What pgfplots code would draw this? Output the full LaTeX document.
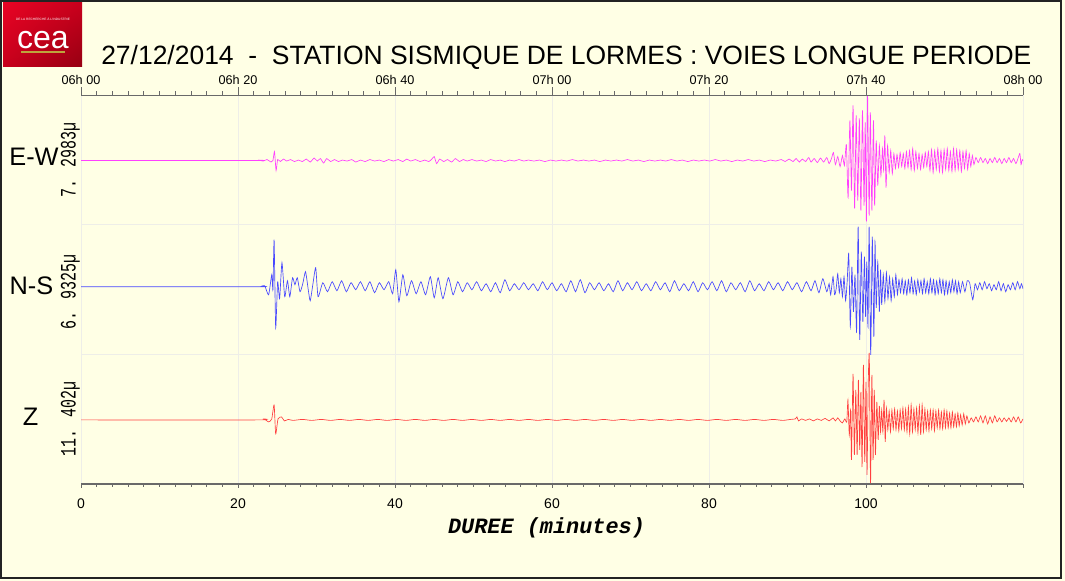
\documentclass[border=0pt]{standalone}
\usepackage{fontspec}
\setmainfont{Liberation Sans}
\newfontfamily\ampfont[FakeStretch=0.68]{Liberation Mono}
\newfontfamily\monofont{Liberation Mono}
\usepackage{pgfplots}
\usepackage{pgfplotstable}
\usetikzlibrary{shadings}
\pgfplotsset{compat=1.18}
\definecolor{bg}{RGB}{255,255,229}
\definecolor{ewc}{RGB}{255,64,255}
\definecolor{nsc}{RGB}{72,72,255}
\definecolor{zc}{RGB}{255,64,64}
\definecolor{gridc}{RGB}{238,238,232}
\definecolor{axc}{RGB}{105,105,105}
\definecolor{frm}{RGB}{35,35,35}
\definecolor{cealight}{RGB}{232,4,36}
\definecolor{ceamid}{RGB}{200,0,28}
\definecolor{ceadark}{RGB}{150,0,18}
\definecolor{ceagold}{RGB}{190,165,60}

\pgfplotstableread{
t a
0 0
22.0 0
22.6 0.5
23.2 -0.5
23.7 1
24.2 -1.5
24.45 0
24.65 9
24.85 -10
25.05 1
25.4 -1
25.8 1.5
26.2 -0.5
26.7 1
27.2 -1
27.7 0.5
28.2 -1
28.7 1.5
29.2 -1.5
29.7 2.5
30.1 -0.5
30.5 2
30.9 -2.5
31.3 2
31.8 -1
32.3 1
32.8 -1
33.3 0.5
33.9 -0.5
34.5 1
35.0 -1.5
35.6 0.5
36.2 -1
36.8 1
37.4 -0.5
38.0 0.5
38.6 -1
39.2 1
39.8 -0.5
40.4 1
41.0 -1
41.5 1.5
42.0 -0.5
42.6 1
43.2 -1
43.8 0.5
44.3 -1
44.7 1.5
45.0 4
45.3 -3
45.7 1.5
46.2 -1
46.7 1
47.2 -1.5
47.7 2
48.2 -1
48.7 1
49.2 -0.5
49.8 1
50.4 -0.5
51.0 0.5
51.6 -1
52.2 1
52.8 -0.5
53.4 0.5
54.0 -1
54.6 0.5
55.2 -0.5
55.8 1
56.4 -0.5
57.0 0.5
57.7 -0.5
58.4 0.5
59.1 -1
59.8 0.5
60.5 -0.5
61.2 0.5
61.9 -0.5
62.6 1
63.3 -0.5
64.0 0.5
64.7 -0.5
65.4 0.5
66.1 -1
66.8 0.5
67.5 -0.5
68.2 0.5
68.9 -0.5
69.6 1
70.3 -0.5
71.0 0.5
71.7 -1
72.4 0.5
73.1 -0.5
73.8 0.5
74.5 -0.5
75.2 1
75.9 -0.5
76.6 0.5
77.3 -1
78.0 0.5
78.7 -0.5
79.4 0.5
80.1 -0.5
80.8 1
81.5 -0.5
82.2 0.5
82.9 -1
83.6 0.5
84.3 -0.5
85.0 1
85.7 -0.5
86.4 0.5
87.1 -1
87.8 0.5
88.5 -0.5
89.2 1
89.7 -1
90.2 1.5
90.7 -1
91.1 2
91.5 -1.5
91.9 1.5
92.3 -1
92.7 3
93.0 -1.5
93.4 2
93.8 -2
94.2 2.5
94.6 -1.5
95.0 3
95.3 -3
95.6 2
95.85 8
96.1 -4
96.4 4
96.7 -6
97.0 5
97.25 -5
97.5 16
97.72 -37
97.95 40
98.15 -30
98.35 55
98.55 -48
98.75 45
98.95 -40
99.15 42
99.35 -50
99.55 50
99.75 -45
99.9 38
100.05 -61
100.2 65
100.4 -55
100.55 48
100.75 -50
100.95 40
101.1 -45
101.3 20
101.5 -25
101.7 15
101.9 -15
102.1 12
102.25 -10
102.4 25
102.55 -27
102.75 15
102.95 -12
103.15 10
103.35 -13
103.55 7
103.75 -8
103.95 6
104.15 -7
104.35 8
104.55 -6
104.75 7
104.95 -8
105.15 9
105.35 -7
105.55 10
105.75 -9
105.95 12
106.15 -10
106.35 9
106.55 -8
106.75 7
106.95 -9
107.15 6
107.35 -7
107.55 8
107.75 -6
107.95 9
108.15 -10
108.35 11
108.55 -12
108.75 10
108.95 -9
109.15 12
109.35 -11
109.55 10
109.75 -12
109.95 11
110.15 -9
110.35 12
110.55 -10
110.75 9
110.95 -11
111.15 12
111.35 -10
111.55 11
111.75 -9
111.95 10
112.15 -11
112.35 9
112.55 -8
112.75 10
112.95 -9
113.15 7
113.35 -6
113.55 5
113.75 -4
114.0 3
114.3 -2
114.6 3
114.9 -2
115.2 2
115.5 -3
115.8 2
116.1 -2
116.4 3
116.7 -2
117.0 2
117.3 -3
117.6 2
117.9 -2
118.2 3
118.5 -2
118.8 2
119.1 -3
119.4 3
119.6 7
119.75 -4
119.9 1
120 0
}\ewdata

\pgfplotstableread{
t a
0 0
22.5 0
23.0 0.5
23.4 1
23.9 -8
24.3 12
24.45 -3
24.6 47
24.8 -41
25.05 5
25.3 -12
25.6 24
25.95 -10
26.3 6
26.6 -10
26.95 9
27.25 2
27.55 9
27.9 -5
28.25 3
28.6 15
28.95 -3
29.2 -14
29.55 3
29.9 19
30.2 -10
30.8 4
31.4 -5
32.0 5
32.6 -4
33.2 6
33.8 -5
34.4 4
35.0 -3
35.6 5
36.2 -4
36.8 5
37.4 -6
38.0 4
38.6 -3
39.2 5
39.7 -7
40.1 17
40.5 -15
41.0 12
41.5 -9
42.1 6
42.7 -7
43.3 5
43.9 -8
44.5 10
45.0 -11
45.5 9
46.1 -12
46.8 9
47.4 -8
48.0 5
48.6 -5
49.2 4
49.8 -3
50.4 5
51.0 -4
51.6 3
52.2 -5
52.8 4
53.4 -6
54.0 7
54.6 -4
55.2 3
55.8 -3
56.4 4
57.0 -3
57.6 3
58.2 -4
58.8 5
59.4 -3
60.0 4
60.6 -4
61.2 3
61.8 -5
62.4 6
63.0 -5
63.6 7
64.2 -6
64.8 4
65.4 -3
66.0 4
66.6 -4
67.2 3
67.8 -5
68.4 6
69.0 -4
69.6 4
70.2 -3
70.8 5
71.4 -4
72.0 3
72.6 -4
73.2 5
73.8 -3
74.4 4
75.0 -5
75.6 6
76.2 -4
76.8 3
77.4 -4
78.0 5
78.6 -5
79.2 4
79.8 -3
80.4 5
81.0 -4
81.6 6
82.2 -5
82.8 4
83.4 -3
84.0 4
84.6 -5
85.2 6
85.8 -4
86.4 3
87.0 -4
87.6 5
88.2 -3
88.8 4
89.4 -4
90.0 5
90.6 -3
91.2 4
91.8 -5
92.4 5
93.0 -4
93.5 6
94.0 -6
94.5 8
95.0 -5
95.3 3
95.5 -8
95.8 10
96.0 -8
96.2 -2
96.4 13
96.6 -6
96.8 8
97.0 -10
97.2 10
97.4 -14
97.6 5
97.8 33
98.0 -40
98.2 20
98.4 -25
98.6 12
98.8 -45
99.0 60
99.2 -53
99.4 35
99.6 -35
99.8 30
99.95 -30
100.1 25
100.25 -40
100.4 60
100.6 -68
100.8 50
101.0 -50
101.15 45
101.3 -21
101.5 25
101.7 -25
101.85 17
102.0 -18
102.2 12
102.4 -15
102.6 14
102.8 -12
103.0 10
103.2 -14
103.4 8
103.6 -10
103.8 12
104.0 -8
104.2 7
104.4 -6
104.6 8
104.8 -7
105.0 6
105.2 -8
105.4 7
105.6 -6
105.8 9
106.0 -7
106.2 6
106.4 -8
106.6 7
106.8 -5
107.0 6
107.2 -7
107.4 8
107.6 -6
107.8 5
108.0 -7
108.2 8
108.4 -6
108.6 7
108.8 -8
109.0 6
109.2 -7
109.4 8
109.6 -6
109.8 7
110.0 -8
110.2 6
110.4 -7
110.6 5
110.8 -6
111.0 7
111.2 -5
111.4 6
111.6 -7
111.8 5
112.0 -6
112.3 5
112.6 -5
112.9 6
113.2 4
113.6 -13
113.9 3
114.2 -3
114.5 4
114.8 -3
115.1 5
115.4 -2
115.7 3
116.0 -4
116.3 2
116.6 -3
116.9 5
117.2 -4
117.5 3
117.8 -5
118.1 2
118.4 -3
118.7 4
119.0 -3
119.3 5
119.6 -2
119.8 3
120 -2
}\nsdata

\pgfplotstableread{
t a
0 0
22.5 0
23.3 1
23.9 -2
24.3 1
24.6 15
24.8 -14
25.1 1
25.55 3
25.9 -1
26.4 0.5
27.0 -0.5
28.2 0.5
29.4 -0.5
30.6 0.5
31.8 -0.5
33.0 0.5
34.2 -0.5
35.4 0.5
36.6 -0.5
37.8 0.5
39.0 -0.5
40.2 0.5
41.4 -0.5
42.6 0.5
43.8 -0.5
45.0 0.5
46.2 -0.5
47.4 0.5
48.6 -0.5
49.8 0.5
51.0 -0.5
52.2 0.5
53.4 -0.5
54.6 0.5
55.8 -0.5
57.0 0.5
58.2 -0.5
59.4 0.5
60.6 -0.5
61.8 0.5
63.0 -0.5
64.2 0.5
65.4 -0.5
66.6 0.5
67.8 -0.5
69.0 0.5
70.2 -0.5
71.4 0.5
72.6 -0.5
73.8 0.5
75.0 -0.5
76.2 0.5
77.4 -0.5
78.6 0.5
79.8 -0.5
81.0 0.5
82.2 -0.5
83.4 0.5
84.6 -0.5
85.8 0.5
87.0 -0.5
88.2 0.5
89.4 -0.5
90.4 0.5
91.0 1
91.2 3
91.4 -1
91.8 1
92.3 -0.5
92.8 1
93.3 -1
93.8 1
94.3 -0.5
94.8 1.5
95.3 -1
95.8 2
96.1 -1
96.4 2
96.7 -1
97.0 -3
97.3 1
97.55 -2
97.7 20
97.87 -15
98.04 10
98.15 -40
98.35 46
98.52 -35
98.7 30
98.87 -35
99.03 40
99.2 -30
99.35 28
99.5 -47
99.67 55
99.84 -42
100.0 38
100.13 -55
100.28 35
100.42 65
100.58 -63
100.75 45
100.9 -40
101.05 30
101.2 -35
101.38 18
101.55 -20
101.7 14
101.85 -12
102.0 10
102.15 -12
102.3 20
102.45 -22
102.6 12
102.78 -10
102.95 9
103.12 -12
103.3 10
103.47 -9
103.65 11
103.82 -10
104.0 9
104.18 -11
104.35 10
104.52 -9
104.7 12
104.88 -10
105.05 11
105.22 -12
105.4 13
105.57 -14
105.75 15
105.92 -12
106.1 11
106.27 -10
106.45 12
106.62 -13
106.8 14
106.97 -15
107.15 15
107.32 -12
107.5 11
107.67 -10
107.85 9
108.02 -11
108.2 10
108.37 -9
108.55 10
108.72 -11
108.9 9
109.07 -8
109.25 10
109.42 -9
109.6 8
109.77 -9
109.95 10
110.12 -8
110.3 9
110.47 -8
110.65 7
110.82 -8
111.0 8
111.17 -7
111.35 6
111.52 -7
111.7 7
111.87 -6
112.05 5
112.25 -5
112.45 6
112.65 -4
112.85 4
113.1 -3
113.4 2
113.7 -2
114.0 3
114.3 -2
114.6 4
114.9 -3
115.2 4
115.5 -4
115.8 3
116.1 -3
116.4 4
116.7 -2
117.0 2
117.3 -2
117.6 2
117.9 -1.5
118.2 2
118.5 -2
118.8 3
119.1 -2
119.4 3
119.7 -3
120 1
}\zdata

\begin{document}
\begin{tikzpicture}[x=0.75pt,y=0.75pt]
\path[use as bounding box] (0,0) rectangle (1065,581);
\fill[bg] (0,0) rectangle (1065,581);

% logo
\shade[upper left=cealight, upper right=ceamid, lower left=ceamid, lower right=ceadark] (3,514) rectangle (82,578);
\node[text=white, inner sep=0, font=\fontsize{24}{24}\selectfont] at (43,541) {cea};
\draw[ceagold, line width=1.5pt] (21,529) -- (65,529);
\node[text=white, inner sep=0, font=\fontsize{2.4}{3}\selectfont] at (43,562) {DE LA RECHERCHE À L'INDUSTRIE};

% title
\node[anchor=base west, inner sep=0, font=\fontsize{19.85}{22}\selectfont] at (101,516)
  {27/12/2014\ \ -\ \ STATION SISMIQUE DE LORMES : VOIES LONGUE PERIODE};

% main axis (bottom)
\begin{axis}[
  at={(60.75pt,72.75pt)}, anchor=south west, scale only axis,
  width=706.5pt, height=291pt,
  xmin=0, xmax=120, ymin=0, ymax=388,
  axis x line*=bottom, axis y line*=left,
  x axis line style={-, axc, line width=0.8pt},
  y axis line style={draw=none},
  xtick={0,20,...,120},
  xticklabels={0,20,40,60,80,100,{}},
  minor x tick num=9,
  tick align=outside,
  major tick length=3pt, minor tick length=2.2pt,
  xtick style={axc, line width=0.6pt},
  ytick={129,259}, yticklabels={}, ytick style={draw=none},
  xmajorgrids, ymajorgrids,
  grid style={gridc, line width=0.7pt},
  xticklabel style={font=\fontsize{10.5}{11}\selectfont, text=black},
  xticklabel shift=4.5pt,
]
\addplot[ewc, line width=0.5pt, smooth, tension=0.35] table[x=t, y expr=\thisrow{a}+323] {\ewdata};
\addplot[nsc, line width=0.5pt, smooth, tension=0.35] table[x=t, y expr=\thisrow{a}+197] {\nsdata};
\addplot[zc, line width=0.5pt, smooth, tension=0.35] table[x=t, y expr=\thisrow{a}+64] {\zdata};
\end{axis}

% top axis
\begin{axis}[
  at={(60.75pt,72.75pt)}, anchor=south west, scale only axis,
  width=706.5pt, height=291pt,
  xmin=0, xmax=120, ymin=0, ymax=388,
  axis x line*=top, axis y line=none,
  x axis line style={-, axc, line width=0.8pt},
  xtick={0,20,...,120},
  xticklabels={06h 00,06h 20,06h 40,07h 00,07h 20,07h 40,08h 00},
  minor x tick num=9,
  tick align=outside,
  major tick length=6pt, minor tick length=3pt,
  xtick style={axc, line width=0.6pt},
  xticklabel style={font=\fontsize{9.5}{10}\selectfont, text=black},
  xticklabel shift=-1.5pt,
]
\end{axis}

% channel names
\node[inner sep=0, font=\fontsize{19}{19}\selectfont] at (34,424.5) {E-W};
\node[inner sep=0, font=\fontsize{19}{19}\selectfont] at (31.5,295) {N-S};
\node[inner sep=0, font=\fontsize{19}{19}\selectfont] at (30.5,164.5) {Z};
% amplitudes
\node[rotate=90, anchor=base, inner sep=0, font=\ampfont\fontsize{16.5}{16.5}\selectfont] at (75.5,421) {7. 2983µ};
\node[rotate=90, anchor=base, inner sep=0, font=\ampfont\fontsize{16.5}{16.5}\selectfont] at (75.5,289.3) {6. 9325µ};
\node[rotate=90, anchor=base, inner sep=0, font=\ampfont\fontsize{16.5}{16.5}\selectfont] at (75.5,162) {11. 402µ};
% x label
\node[inner sep=0, font=\monofont\bfseries\itshape\fontsize{16.4}{17}\selectfont] at (546.5,53.5) {DUREE (minutes)};

% frame
\draw[frm, line width=1.5pt] (1,3) rectangle (1061,580);
\end{tikzpicture}
\end{document}
